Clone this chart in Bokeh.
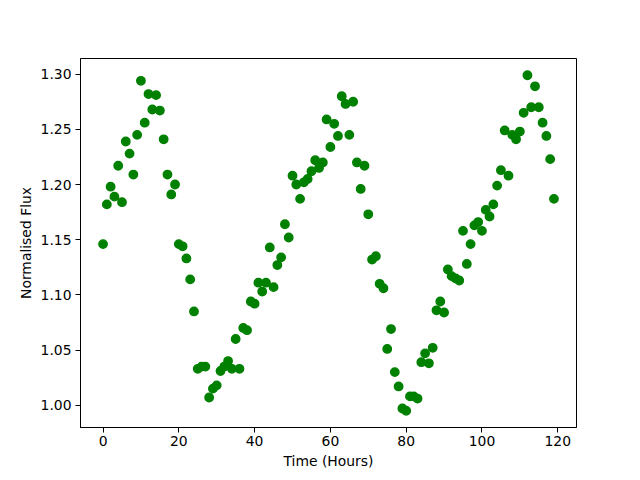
from bokeh.plotting import figure
from bokeh.models import FixedTicker, Range1d, PrintfTickFormatter
from bokeh.embed import file_html
from bokeh.resources import INLINE

time_hours = [
    0, 1, 2, 3, 4, 5, 6, 7, 8, 9, 10, 11, 12, 13, 14, 15, 16, 17, 18, 19,
    20, 21, 22, 23, 24, 25, 26, 27, 28, 29, 30, 31, 32, 33, 34, 35, 36, 37, 38, 39,
    40, 41, 42, 43, 44, 45, 46, 47, 48, 49, 50, 51, 52, 53, 54, 55, 56, 57, 58, 59,
    60, 61, 62, 63, 64, 65, 66, 67, 68, 69, 70, 71, 72, 73, 74, 75, 76, 77, 78, 79,
    80, 81, 82, 83, 84, 85, 86, 87, 88, 89, 90, 91, 92, 93, 94, 95, 96, 97, 98, 99,
    100, 101, 102, 103, 104, 105, 106, 107, 108, 109, 110, 111, 112, 113, 114, 115, 116, 117, 118, 119,
]

flux = [
    1.146, 1.182, 1.198, 1.189, 1.217, 1.184, 1.239, 1.228, 1.209, 1.245,
    1.294, 1.256, 1.282, 1.268, 1.281, 1.267, 1.241, 1.209, 1.191, 1.200,
    1.146, 1.144, 1.133, 1.114, 1.085, 1.033, 1.035, 1.035, 1.007, 1.015,
    1.018, 1.031, 1.035, 1.040, 1.033, 1.060, 1.033, 1.070, 1.068, 1.094,
    1.092, 1.111, 1.103, 1.111, 1.143, 1.107, 1.127, 1.134, 1.164, 1.152,
    1.208, 1.200, 1.187, 1.202, 1.205, 1.212, 1.222, 1.215, 1.220, 1.259,
    1.234, 1.255, 1.244, 1.280, 1.273, 1.245, 1.275, 1.220, 1.196, 1.217,
    1.173, 1.132, 1.135, 1.110, 1.106, 1.051, 1.069, 1.030, 1.017, 0.997,
    0.995, 1.008, 1.008, 1.006, 1.039, 1.047, 1.038, 1.052, 1.086, 1.094,
    1.084, 1.123, 1.117, 1.115, 1.113, 1.158, 1.128, 1.146, 1.163, 1.166,
    1.158, 1.177, 1.171, 1.182, 1.199, 1.213, 1.249, 1.208, 1.245, 1.241,
    1.248, 1.265, 1.299, 1.270, 1.289, 1.270, 1.256, 1.244, 1.223, 1.187,
]

x_ticks = [0, 20, 40, 60, 80, 100, 120]
y_ticks = [1.00, 1.05, 1.10, 1.15, 1.20, 1.25, 1.30]

# matplotlib-like 5% margins
xmin, xmax = min(time_hours), max(time_hours)
ymin, ymax = min(flux), max(flux)
xm = (xmax - xmin) * 0.05
ym = (ymax - ymin) * 0.05

p = figure(
    width=640, height=480,
    output_backend="svg", toolbar_location=None,
    x_range=Range1d(xmin - xm, xmax + xm),
    y_range=Range1d(ymin - ym, ymax + ym),
    min_border_left=80, min_border_right=64,
    min_border_top=58, min_border_bottom=53,
)

p.scatter(time_hours, flux, size=8.4, fill_color="#008000",
          line_color="#008000", line_width=1.4)

p.xgrid.visible = False
p.ygrid.visible = False
p.outline_line_color = "black"
p.outline_line_width = 1
p.outline_line_alpha = 1

p.xaxis.ticker = FixedTicker(ticks=x_ticks)
p.yaxis.ticker = FixedTicker(ticks=y_ticks)
p.yaxis.formatter = PrintfTickFormatter(format="%.2f")

for ax in (p.xaxis, p.yaxis):
    ax.axis_line_color = "black"
    ax.major_tick_line_color = "black"
    ax.major_tick_in = 0
    ax.major_tick_out = 5
    ax.minor_tick_line_color = None
    ax.major_label_text_font = "DejaVu Sans"
    ax.major_label_text_font_size = "13.9px"
    ax.major_label_text_color = "black"
    ax.major_label_standoff = 4
    ax.axis_label_text_font = "DejaVu Sans"
    ax.axis_label_text_font_size = "13.9px"
    ax.axis_label_text_font_style = "normal"
    ax.axis_label_text_color = "black"
    ax.axis_label_standoff = 4

p.xaxis.major_label_standoff = 3
p.xaxis.axis_label = "Time (Hours)"
p.yaxis.axis_label = "Normalised Flux"

open("out.html", "w").write(file_html(p, INLINE))
